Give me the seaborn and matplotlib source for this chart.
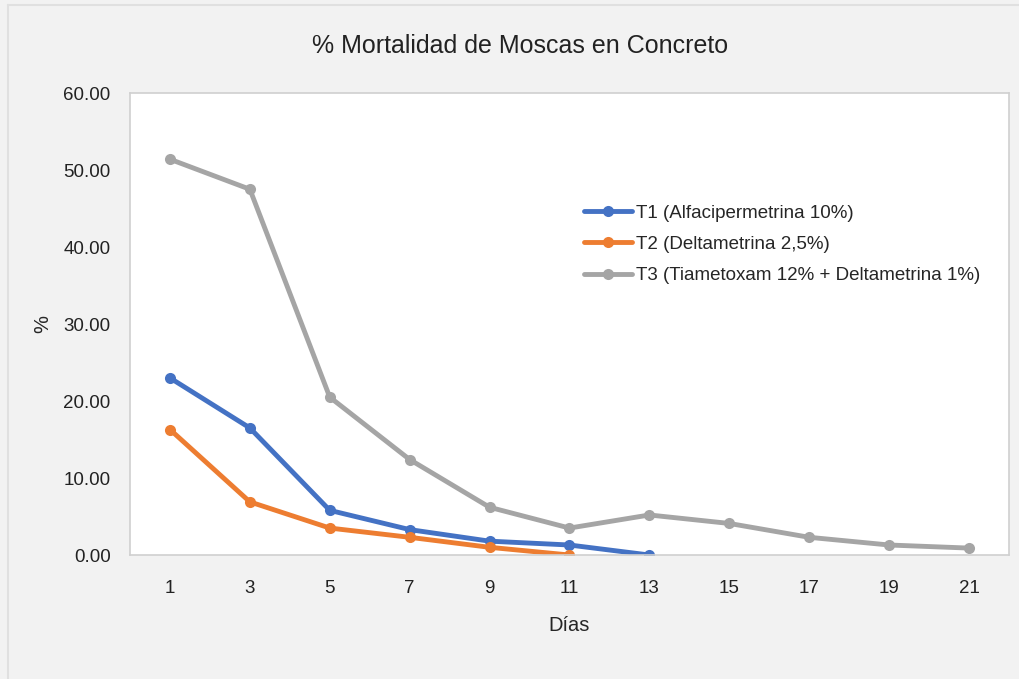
import numpy as np
import pandas as pd
import seaborn as sns
import matplotlib.pyplot as plt

# days measured
dias_t1 = [1, 3, 5, 7, 9, 11, 13]
dias_t2 = [1, 3, 5, 7, 9, 11]
dias_t3 = [1, 3, 5, 7, 9, 11, 13, 15, 17, 19, 21]

# % mortality
t1 = [23.0, 16.5, 5.8, 3.3, 1.8, 1.3, 0.0]
t2 = [16.3, 6.9, 3.5, 2.3, 1.0, 0.0]
t3 = [51.4, 47.5, 20.5, 12.4, 6.2, 3.5, 5.2, 4.1, 2.3, 1.3, 0.9]

labels = ["T1 (Alfacipermetrina 10%)",
          "T2 (Deltametrina 2,5%)",
          "T3 (Tiametoxam 12% + Deltametrina 1%)"]
colores = ["#4472C4", "#ED7D31", "#A5A5A5"]
xticks = [1, 3, 5, 7, 9, 11, 13, 15, 17, 19, 21]

df = pd.concat([
    pd.DataFrame({"Días": dias_t1, "pct": t1, "serie": labels[0]}),
    pd.DataFrame({"Días": dias_t2, "pct": t2, "serie": labels[1]}),
    pd.DataFrame({"Días": dias_t3, "pct": t3, "serie": labels[2]}),
])

sns.set_style("white")
plt.rcParams['font.family'] = ['Liberation Sans', 'DejaVu Sans']

fig = plt.figure(figsize=(10.19, 6.79), dpi=100, facecolor="#f2f2f2")

# faint outer border of the chart box
fig.add_artist(plt.Line2D([0.008, 0.008], [0, 0.993], transform=fig.transFigure,
                          color="#e0e0e0", linewidth=1.5))
fig.add_artist(plt.Line2D([0.008, 1], [0.993, 0.993], transform=fig.transFigure,
                          color="#e0e0e0", linewidth=1.5))

ax = fig.add_axes([0.1276, 0.1826, 0.8625, 0.6804])
ax.set_facecolor("white")

sns.lineplot(data=df, x="Días", y="pct", hue="serie", palette=colores,
             marker="o", markersize=8, markeredgewidth=0, linewidth=3.5,
             ax=ax)

ax.set_xlim(0, 22)
ax.set_ylim(0, 60)
ax.set_xticks(xticks)
ax.set_xticklabels([str(x) for x in xticks], fontsize=13.5)
ax.set_yticks(np.arange(0, 61, 10))
ax.set_yticklabels([f"{v:.2f}" for v in np.arange(0, 61, 10)], fontsize=13.5)
ax.tick_params(axis="both", length=0, colors="#222222")
ax.tick_params(axis="x", pad=18)
ax.tick_params(axis="y", pad=14)

for s in ax.spines.values():
    s.set_color("#d0d0d0")
    s.set_linewidth(1.2)

ax.set_xlabel("Días", fontsize=14.5, labelpad=14)
ax.set_ylabel("%", fontsize=14.5, labelpad=8)

fig.text(0.51, 0.932, "% Mortalidad de Moscas en Concreto", ha="center",
         va="center", fontsize=18, color="#222222")

ax.legend(loc="upper left", bbox_to_anchor=(0.497, 0.795), frameon=False,
          fontsize=13.5, handlelength=2.6, handletextpad=0.2, labelspacing=0.75)

fig.savefig("out.png", dpi=100, facecolor=fig.get_facecolor())
